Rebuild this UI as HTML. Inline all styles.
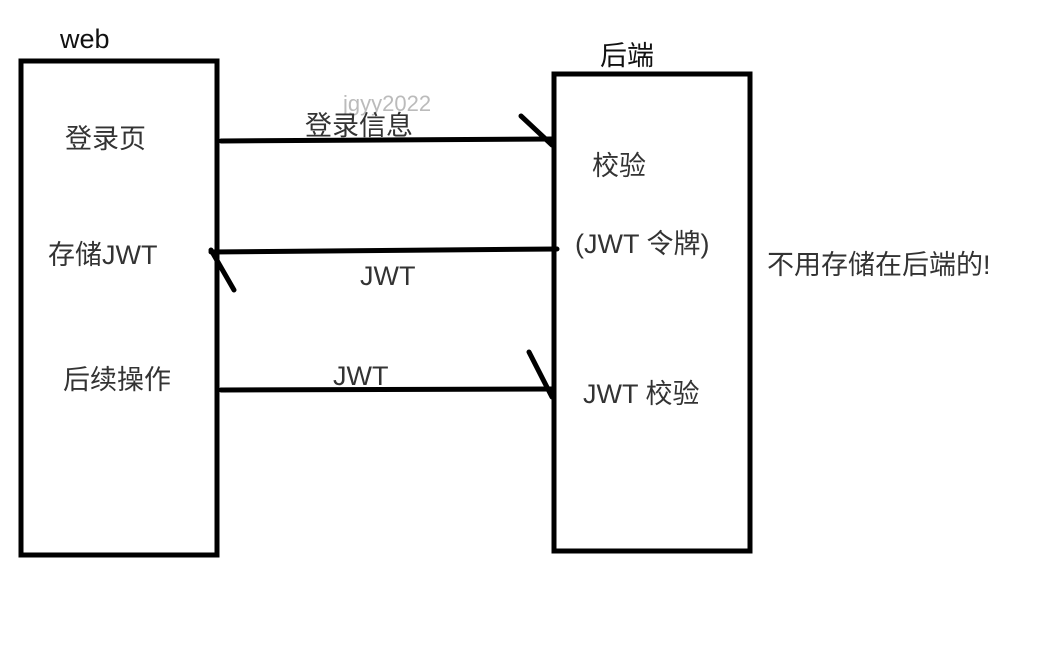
<!DOCTYPE html>
<html><head><meta charset="utf-8"><style>
html,body{margin:0;padding:0;background:#fff;}
svg{display:block;}
text{font-family:"Liberation Sans","Noto Sans CJK SC",sans-serif;fill:#333;}
</style></head><body>
<svg width="1050" height="651" viewBox="0 0 1050 651" xmlns="http://www.w3.org/2000/svg">
<rect x="0" y="0" width="1050" height="651" fill="#fff"/>
<g stroke="#000" stroke-width="5" fill="none" stroke-linecap="round">
<rect x="21" y="61" width="196" height="494"/>
<rect x="554" y="74" width="196" height="477"/>
<line x1="221" y1="141" x2="552" y2="139"/>
<line x1="521" y1="116" x2="552" y2="145"/>
<line x1="211" y1="252" x2="557" y2="249"/>
<line x1="211" y1="250" x2="234" y2="290"/>
<line x1="221" y1="390" x2="552" y2="389"/>
<line x1="529" y1="352" x2="552" y2="397"/>
</g>
<text x="343" y="111" font-size="22" fill="#bbb" style="fill:#bbb">jgyy2022</text>
<text x="60" y="48" font-size="27" style="fill:#111">web</text>
<text x="600" y="65" font-size="27" style="fill:#111">后端</text>
<text x="65" y="148" font-size="27">登录页</text>
<text x="48" y="264" font-size="27">存储JWT</text>
<text x="63" y="389" font-size="27">后续操作</text>
<text x="305" y="135" font-size="27">登录信息</text>
<text x="360" y="285" font-size="27">JWT</text>
<text x="333" y="385" font-size="27">JWT</text>
<text x="592" y="175" font-size="27">校验</text>
<text x="575" y="253" font-size="27">(JWT 令牌)</text>
<text x="583" y="403" font-size="27">JWT 校验</text>
<text x="767" y="274" font-size="27">不用存储在后端的!</text>
</svg>
</body></html>
